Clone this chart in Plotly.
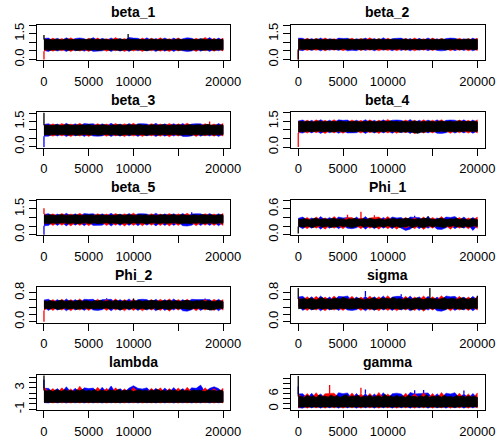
import numpy as np
import plotly.graph_objects as go

# ---- MCMC trace summaries: per-bin range (lo/hi) of the draws of each chain ----
params = ["beta_1", "beta_2", "beta_3", "beta_4", "beta_5",
          "Phi_1", "Phi_2", "sigma", "lambda", "gamma"]
n_iter = 20000

beta_1_black_hi = [1.16, 1.15, 1.17, 1.14, 1.18, 1.16, 1.13, 1.17, 1.19, 1.15, 1.16, 1.14, 1.18, 1.17, 1.15, 1.16, 1.20, 1.14, 1.17, 1.15, 1.18, 1.16, 1.13, 1.17, 1.15, 1.19, 1.16, 1.14, 1.17, 1.17, 1.15, 1.16, 1.18, 1.14, 1.17, 1.15, 1.19, 1.16, 1.14, 1.17, 1.18, 1.15, 1.16, 1.13, 1.17, 1.19, 1.15, 1.16, 1.14, 1.18, 1.17, 1.15, 1.16, 1.19, 1.14, 1.17, 1.15, 1.18, 1.16, 1.14, 1.17]
beta_1_black_lo = [0.58, 0.56, 0.54, 0.57, 0.55, 0.53, 0.56, 0.58, 0.54, 0.55, 0.57, 0.52, 0.56, 0.55, 0.58, 0.54, 0.56, 0.57, 0.53, 0.55, 0.56, 0.58, 0.54, 0.57, 0.55, 0.56, 0.53, 0.57, 0.55, 0.54, 0.58, 0.56, 0.55, 0.57, 0.52, 0.56, 0.55, 0.58, 0.54, 0.56, 0.57, 0.55, 0.53, 0.56, 0.58, 0.54, 0.57, 0.55, 0.56, 0.53, 0.57, 0.55, 0.58, 0.54, 0.56, 0.55, 0.57, 0.54, 0.56, 0.58, 0.55]
beta_1_red_hi = [1.20, 1.10, 1.24, 1.12, 1.22, 1.09, 1.26, 1.11, 1.13, 1.10, 1.23, 1.12, 1.25, 1.10, 1.21, 1.11, 1.27, 1.12, 1.22, 1.09, 1.12, 1.10, 1.24, 1.11, 1.23, 1.12, 1.26, 1.10, 1.21, 1.11, 1.25, 1.12, 1.13, 1.10, 1.23, 1.11, 1.28, 1.12, 1.22, 1.10, 1.24]
beta_1_red_lo = [0.48, 0.60, 0.48, 0.59, 0.50, 0.61, 0.46, 0.60, 0.49, 0.58, 0.47, 0.61, 0.59, 0.60, 0.48, 0.59, 0.50, 0.61, 0.46, 0.60, 0.49, 0.58, 0.47, 0.61, 0.50, 0.60, 0.48, 0.59, 0.46, 0.61, 0.49, 0.60, 0.58, 0.59, 0.47, 0.61, 0.50, 0.60, 0.48, 0.59, 0.49]
beta_1_blue_hi = [1.22, 1.24, 1.10, 1.23, 1.11, 1.26, 1.12, 1.22, 1.25, 1.21, 1.10, 1.27, 1.11, 1.23, 1.12, 1.25, 1.10, 1.22, 1.11, 1.28, 1.24, 1.23, 1.12, 1.26, 1.10, 1.22, 1.11, 1.25, 1.12, 1.24, 1.10, 1.21, 1.26, 1.23, 1.11, 1.22, 1.12, 1.27, 1.10, 1.24, 1.11]
beta_1_blue_lo = [0.52, 0.47, 0.60, 0.49, 0.59, 0.46, 0.61, 0.50, 0.60, 0.48, 0.59, 0.47, 0.49, 0.50, 0.61, 0.46, 0.60, 0.48, 0.59, 0.47, 0.61, 0.50, 0.60, 0.49, 0.59, 0.46, 0.61, 0.48, 0.60, 0.47, 0.59, 0.50, 0.46, 0.49, 0.61, 0.48, 0.60, 0.47, 0.59, 0.50, 0.60]

beta_2_black_hi = [1.15, 1.17, 1.14, 1.18, 1.16, 1.15, 1.19, 1.16, 1.14, 1.17, 1.15, 1.18, 1.16, 1.13, 1.17, 1.15, 1.16, 1.19, 1.14, 1.16, 1.17, 1.15, 1.18, 1.14, 1.16, 1.17, 1.15, 1.19, 1.16, 1.14, 1.17, 1.15, 1.18, 1.16, 1.14, 1.17, 1.19, 1.15, 1.16, 1.14, 1.18, 1.16, 1.15, 1.17, 1.14, 1.18, 1.16, 1.15, 1.19, 1.16, 1.14, 1.17, 1.15, 1.18, 1.16, 1.14, 1.17, 1.19, 1.15, 1.16, 1.17]
beta_2_black_lo = [0.60, 0.60, 0.58, 0.61, 0.57, 0.59, 0.62, 0.58, 0.60, 0.56, 0.59, 0.61, 0.57, 0.60, 0.58, 0.62, 0.59, 0.57, 0.61, 0.58, 0.60, 0.56, 0.59, 0.61, 0.58, 0.60, 0.57, 0.62, 0.59, 0.58, 0.61, 0.57, 0.60, 0.59, 0.62, 0.58, 0.56, 0.60, 0.59, 0.61, 0.57, 0.60, 0.58, 0.62, 0.59, 0.57, 0.60, 0.58, 0.61, 0.56, 0.59, 0.60, 0.58, 0.62, 0.57, 0.59, 0.61, 0.58, 0.60, 0.57, 0.59]
beta_2_red_hi = [1.18, 1.11, 1.23, 1.10, 1.22, 1.12, 1.25, 1.11, 1.21, 1.10, 1.12, 1.11, 1.24, 1.10, 1.22, 1.12, 1.26, 1.11, 1.21, 1.10, 1.23, 1.12, 1.11, 1.10, 1.22, 1.12, 1.25, 1.11, 1.21, 1.10, 1.24, 1.12, 1.22, 1.11, 1.12, 1.10, 1.23, 1.12, 1.21, 1.11, 1.24]
beta_2_red_lo = [0.52, 0.62, 0.52, 0.61, 0.53, 0.62, 0.50, 0.61, 0.54, 0.62, 0.51, 0.61, 0.60, 0.62, 0.52, 0.61, 0.53, 0.62, 0.50, 0.61, 0.52, 0.62, 0.51, 0.61, 0.53, 0.62, 0.50, 0.61, 0.54, 0.62, 0.52, 0.61, 0.61, 0.62, 0.51, 0.61, 0.53, 0.62, 0.50, 0.61, 0.52]
beta_2_blue_hi = [1.24, 1.23, 1.11, 1.22, 1.10, 1.25, 1.12, 1.21, 1.11, 1.24, 1.22, 1.23, 1.10, 1.21, 1.12, 1.24, 1.11, 1.22, 1.10, 1.26, 1.12, 1.21, 1.23, 1.24, 1.11, 1.22, 1.10, 1.23, 1.12, 1.25, 1.11, 1.21, 1.10, 1.22, 1.24, 1.23, 1.12, 1.21, 1.10, 1.24, 1.12]
beta_2_blue_lo = [0.55, 0.51, 0.62, 0.52, 0.61, 0.50, 0.62, 0.53, 0.61, 0.52, 0.62, 0.50, 0.53, 0.51, 0.62, 0.52, 0.61, 0.50, 0.62, 0.53, 0.61, 0.51, 0.62, 0.52, 0.61, 0.50, 0.62, 0.53, 0.61, 0.51, 0.62, 0.52, 0.50, 0.53, 0.62, 0.51, 0.61, 0.52, 0.62, 0.50, 0.61]

beta_3_black_hi = [1.28, 1.27, 1.29, 1.26, 1.30, 1.28, 1.25, 1.29, 1.31, 1.27, 1.28, 1.26, 1.30, 1.29, 1.27, 1.32, 1.28, 1.26, 1.29, 1.27, 1.30, 1.28, 1.25, 1.29, 1.27, 1.31, 1.28, 1.26, 1.30, 1.29, 1.27, 1.28, 1.33, 1.27, 1.29, 1.26, 1.30, 1.28, 1.27, 1.29, 1.31, 1.28, 1.26, 1.29, 1.27, 1.30, 1.28, 1.26, 1.29, 1.31, 1.27, 1.28, 1.30, 1.26, 1.29, 1.33, 1.28, 1.27, 1.30, 1.28, 1.29]
beta_3_black_lo = [0.70, 0.71, 0.69, 0.72, 0.70, 0.68, 0.71, 0.73, 0.69, 0.70, 0.72, 0.68, 0.71, 0.70, 0.73, 0.69, 0.71, 0.72, 0.68, 0.70, 0.71, 0.73, 0.69, 0.72, 0.70, 0.71, 0.68, 0.72, 0.70, 0.69, 0.73, 0.71, 0.70, 0.72, 0.68, 0.71, 0.70, 0.73, 0.69, 0.71, 0.72, 0.70, 0.68, 0.71, 0.73, 0.69, 0.72, 0.70, 0.71, 0.68, 0.72, 0.70, 0.73, 0.69, 0.71, 0.70, 0.72, 0.69, 0.71, 0.73, 0.70]
beta_3_red_hi = [1.30, 1.24, 1.36, 1.23, 1.38, 1.25, 1.35, 1.24, 1.39, 1.23, 1.26, 1.24, 1.37, 1.25, 1.35, 1.23, 1.38, 1.24, 1.36, 1.25, 1.39, 1.23, 1.25, 1.24, 1.37, 1.25, 1.35, 1.23, 1.38, 1.24, 1.36, 1.25, 1.40, 1.23, 1.26, 1.24, 1.37, 1.24, 1.35, 1.23, 1.38]
beta_3_red_lo = [0.70, 0.74, 0.62, 0.75, 0.64, 0.74, 0.60, 0.75, 0.63, 0.74, 0.61, 0.75, 0.73, 0.74, 0.62, 0.75, 0.64, 0.74, 0.60, 0.75, 0.63, 0.74, 0.61, 0.75, 0.64, 0.74, 0.62, 0.75, 0.59, 0.74, 0.63, 0.75, 0.74, 0.74, 0.61, 0.75, 0.64, 0.74, 0.62, 0.75, 0.63]
beta_3_blue_hi = [1.32, 1.37, 1.24, 1.35, 1.23, 1.39, 1.25, 1.36, 1.24, 1.38, 1.35, 1.37, 1.23, 1.36, 1.25, 1.39, 1.24, 1.35, 1.23, 1.38, 1.25, 1.36, 1.37, 1.35, 1.24, 1.39, 1.23, 1.36, 1.25, 1.37, 1.24, 1.38, 1.23, 1.35, 1.37, 1.36, 1.25, 1.24, 1.23, 1.38, 1.24]
beta_3_blue_lo = [0.62, 0.62, 0.74, 0.63, 0.75, 0.60, 0.74, 0.64, 0.75, 0.61, 0.74, 0.63, 0.62, 0.64, 0.75, 0.60, 0.74, 0.62, 0.75, 0.63, 0.74, 0.61, 0.75, 0.64, 0.74, 0.60, 0.75, 0.62, 0.74, 0.63, 0.75, 0.61, 0.60, 0.64, 0.75, 0.62, 0.74, 0.63, 0.75, 0.61, 0.74]

beta_4_black_hi = [1.47, 1.49, 1.46, 1.50, 1.48, 1.45, 1.49, 1.51, 1.47, 1.48, 1.46, 1.50, 1.49, 1.47, 1.52, 1.48, 1.46, 1.49, 1.47, 1.50, 1.48, 1.45, 1.49, 1.47, 1.51, 1.48, 1.46, 1.50, 1.49, 1.47, 1.48, 1.52, 1.47, 1.49, 1.46, 1.50, 1.48, 1.47, 1.49, 1.51, 1.48, 1.46, 1.49, 1.47, 1.50, 1.48, 1.46, 1.49, 1.51, 1.47, 1.48, 1.50, 1.46, 1.49, 1.52, 1.48, 1.47, 1.50, 1.48, 1.49, 1.47]
beta_4_black_lo = [0.90, 0.91, 0.89, 0.92, 0.90, 0.88, 0.91, 0.93, 0.89, 0.90, 0.92, 0.88, 0.91, 0.90, 0.93, 0.89, 0.91, 0.92, 0.88, 0.90, 0.91, 0.93, 0.89, 0.92, 0.90, 0.91, 0.88, 0.92, 0.90, 0.89, 0.93, 0.91, 0.90, 0.92, 0.86, 0.89, 0.87, 0.91, 0.88, 0.85, 0.80, 0.88, 0.86, 0.90, 0.92, 0.89, 0.91, 0.90, 0.93, 0.89, 0.92, 0.90, 0.91, 0.89, 0.92, 0.90, 0.93, 0.91, 0.90, 0.92, 0.91]
beta_4_red_hi = [1.50, 1.44, 1.56, 1.43, 1.58, 1.45, 1.55, 1.44, 1.59, 1.43, 1.46, 1.44, 1.57, 1.45, 1.55, 1.43, 1.58, 1.44, 1.56, 1.45, 1.60, 1.43, 1.45, 1.44, 1.57, 1.45, 1.55, 1.43, 1.58, 1.44, 1.56, 1.45, 1.59, 1.43, 1.46, 1.44, 1.57, 1.45, 1.55, 1.43, 1.58]
beta_4_red_lo = [0.82, 0.94, 0.81, 0.95, 0.83, 0.94, 0.79, 0.95, 0.82, 0.94, 0.80, 0.95, 0.93, 0.94, 0.81, 0.95, 0.83, 0.94, 0.79, 0.95, 0.82, 0.94, 0.80, 0.95, 0.83, 0.94, 0.78, 0.95, 0.81, 0.94, 0.82, 0.95, 0.94, 0.94, 0.80, 0.95, 0.83, 0.94, 0.81, 0.95, 0.82]
beta_4_blue_hi = [1.52, 1.57, 1.44, 1.55, 1.43, 1.59, 1.45, 1.56, 1.44, 1.58, 1.55, 1.57, 1.43, 1.56, 1.45, 1.59, 1.44, 1.55, 1.43, 1.58, 1.45, 1.56, 1.57, 1.55, 1.44, 1.60, 1.43, 1.56, 1.45, 1.57, 1.44, 1.58, 1.43, 1.55, 1.57, 1.56, 1.45, 1.58, 1.43, 1.57, 1.44]
beta_4_blue_lo = [0.84, 0.81, 0.94, 0.82, 0.95, 0.79, 0.94, 0.83, 0.95, 0.80, 0.94, 0.82, 0.81, 0.83, 0.95, 0.79, 0.94, 0.81, 0.95, 0.82, 0.94, 0.80, 0.95, 0.83, 0.94, 0.79, 0.95, 0.81, 0.94, 0.82, 0.95, 0.80, 0.79, 0.83, 0.95, 0.81, 0.94, 0.82, 0.95, 0.80, 0.94]

beta_5_black_hi = [1.14, 1.12, 1.15, 1.13, 1.11, 1.14, 1.16, 1.12, 1.13, 1.15, 1.12, 1.14, 1.13, 1.11, 1.15, 1.13, 1.16, 1.12, 1.14, 1.13, 1.15, 1.12, 1.14, 1.11, 1.13, 1.16, 1.14, 1.12, 1.15, 1.13, 1.14, 1.12, 1.16, 1.13, 1.15, 1.12, 1.14, 1.13, 1.11, 1.15, 1.14, 1.12, 1.13, 1.16, 1.14, 1.12, 1.15, 1.13, 1.14, 1.11, 1.15, 1.13, 1.12, 1.16, 1.14, 1.13, 1.15, 1.12, 1.14, 1.13, 1.15]
beta_5_black_lo = [0.66, 0.67, 0.65, 0.68, 0.66, 0.64, 0.67, 0.69, 0.65, 0.66, 0.68, 0.64, 0.67, 0.66, 0.69, 0.65, 0.67, 0.68, 0.64, 0.66, 0.67, 0.69, 0.65, 0.68, 0.66, 0.67, 0.64, 0.68, 0.66, 0.65, 0.69, 0.67, 0.66, 0.68, 0.64, 0.67, 0.66, 0.69, 0.65, 0.67, 0.68, 0.66, 0.64, 0.67, 0.69, 0.65, 0.68, 0.66, 0.67, 0.64, 0.68, 0.66, 0.69, 0.65, 0.67, 0.66, 0.68, 0.65, 0.67, 0.69, 0.66]
beta_5_red_hi = [1.20, 1.09, 1.21, 1.08, 1.23, 1.10, 1.20, 1.09, 1.24, 1.08, 1.11, 1.09, 1.22, 1.10, 1.20, 1.08, 1.23, 1.09, 1.21, 1.10, 1.25, 1.08, 1.10, 1.09, 1.22, 1.10, 1.20, 1.08, 1.23, 1.09, 1.21, 1.10, 1.24, 1.08, 1.11, 1.09, 1.22, 1.10, 1.20, 1.08, 1.23]
beta_5_red_lo = [0.62, 0.70, 0.53, 0.71, 0.55, 0.70, 0.51, 0.71, 0.54, 0.70, 0.52, 0.71, 0.69, 0.70, 0.53, 0.71, 0.55, 0.70, 0.50, 0.71, 0.54, 0.70, 0.52, 0.71, 0.55, 0.70, 0.53, 0.71, 0.51, 0.70, 0.54, 0.71, 0.70, 0.70, 0.52, 0.71, 0.55, 0.70, 0.53, 0.71, 0.54]
beta_5_blue_hi = [1.18, 1.22, 1.09, 1.20, 1.08, 1.24, 1.10, 1.21, 1.09, 1.23, 1.20, 1.22, 1.08, 1.21, 1.10, 1.24, 1.09, 1.20, 1.08, 1.23, 1.10, 1.21, 1.22, 1.20, 1.09, 1.25, 1.08, 1.21, 1.10, 1.22, 1.09, 1.23, 1.08, 1.20, 1.22, 1.21, 1.10, 1.23, 1.08, 1.22, 1.09]
beta_5_blue_lo = [0.52, 0.53, 0.70, 0.54, 0.71, 0.51, 0.70, 0.55, 0.71, 0.52, 0.70, 0.54, 0.53, 0.55, 0.71, 0.50, 0.70, 0.53, 0.71, 0.54, 0.70, 0.52, 0.71, 0.55, 0.70, 0.51, 0.71, 0.53, 0.70, 0.54, 0.71, 0.52, 0.50, 0.55, 0.71, 0.53, 0.70, 0.54, 0.71, 0.52, 0.70]

Phi_1_black_hi = [0.36, 0.35, 0.37, 0.36, 0.34, 0.37, 0.38, 0.35, 0.36, 0.37, 0.35, 0.36, 0.38, 0.35, 0.37, 0.36, 0.34, 0.37, 0.36, 0.38, 0.35, 0.36, 0.37, 0.35, 0.38, 0.36, 0.35, 0.37, 0.36, 0.34, 0.37, 0.36, 0.38, 0.35, 0.37, 0.36, 0.38, 0.37, 0.36, 0.35, 0.37, 0.36, 0.38, 0.37, 0.37, 0.36, 0.35, 0.37, 0.38, 0.36, 0.35, 0.37, 0.36, 0.38, 0.35, 0.37, 0.36, 0.34, 0.37, 0.36, 0.35]
Phi_1_black_lo = [0.19, 0.19, 0.18, 0.20, 0.19, 0.17, 0.20, 0.21, 0.18, 0.19, 0.20, 0.17, 0.19, 0.18, 0.21, 0.19, 0.20, 0.18, 0.17, 0.19, 0.20, 0.21, 0.18, 0.20, 0.19, 0.18, 0.17, 0.20, 0.19, 0.18, 0.21, 0.19, 0.18, 0.20, 0.17, 0.19, 0.18, 0.21, 0.16, 0.19, 0.20, 0.18, 0.17, 0.19, 0.21, 0.18, 0.20, 0.19, 0.18, 0.17, 0.20, 0.19, 0.21, 0.18, 0.19, 0.17, 0.20, 0.18, 0.19, 0.21, 0.19]
Phi_1_red_hi = [0.33, 0.34, 0.40, 0.33, 0.41, 0.34, 0.39, 0.33, 0.42, 0.34, 0.35, 0.40, 0.40, 0.33, 0.40, 0.34, 0.39, 0.40, 0.41, 0.34, 0.42, 0.33, 0.35, 0.34, 0.40, 0.33, 0.39, 0.34, 0.41, 0.33, 0.40, 0.34, 0.42, 0.33, 0.35, 0.34, 0.40, 0.33, 0.39, 0.34, 0.41]
Phi_1_red_lo = [0.22, 0.21, 0.14, 0.22, 0.15, 0.21, 0.13, 0.22, 0.15, 0.21, 0.14, 0.22, 0.20, 0.21, 0.14, 0.22, 0.15, 0.21, 0.13, 0.22, 0.14, 0.21, 0.13, 0.22, 0.15, 0.21, 0.14, 0.22, 0.12, 0.21, 0.15, 0.22, 0.21, 0.21, 0.13, 0.22, 0.15, 0.21, 0.14, 0.22, 0.15]
Phi_1_blue_hi = [0.38, 0.41, 0.34, 0.39, 0.33, 0.42, 0.34, 0.40, 0.33, 0.41, 0.39, 0.40, 0.33, 0.41, 0.34, 0.42, 0.33, 0.34, 0.33, 0.40, 0.34, 0.41, 0.39, 0.40, 0.33, 0.41, 0.40, 0.40, 0.34, 0.42, 0.33, 0.39, 0.34, 0.41, 0.40, 0.42, 0.34, 0.41, 0.33, 0.40, 0.34]
Phi_1_blue_lo = [0.20, 0.14, 0.21, 0.15, 0.22, 0.13, 0.21, 0.15, 0.22, 0.14, 0.21, 0.15, 0.14, 0.16, 0.22, 0.13, 0.21, 0.14, 0.22, 0.15, 0.21, 0.14, 0.22, 0.15, 0.10, 0.13, 0.22, 0.14, 0.21, 0.15, 0.22, 0.13, 0.12, 0.16, 0.22, 0.14, 0.21, 0.15, 0.22, 0.10, 0.21]

Phi_2_black_hi = [0.57, 0.56, 0.58, 0.57, 0.55, 0.58, 0.59, 0.56, 0.57, 0.58, 0.56, 0.57, 0.59, 0.56, 0.58, 0.57, 0.55, 0.58, 0.57, 0.59, 0.56, 0.57, 0.58, 0.56, 0.59, 0.57, 0.56, 0.58, 0.57, 0.55, 0.58, 0.57, 0.59, 0.56, 0.58, 0.57, 0.59, 0.58, 0.57, 0.56, 0.58, 0.57, 0.59, 0.56, 0.58, 0.57, 0.56, 0.58, 0.59, 0.57, 0.56, 0.58, 0.57, 0.59, 0.56, 0.58, 0.57, 0.55, 0.58, 0.57, 0.56]
Phi_2_black_lo = [0.36, 0.37, 0.35, 0.38, 0.36, 0.34, 0.37, 0.38, 0.35, 0.36, 0.37, 0.34, 0.36, 0.35, 0.38, 0.36, 0.37, 0.35, 0.34, 0.36, 0.37, 0.38, 0.35, 0.37, 0.36, 0.35, 0.34, 0.37, 0.36, 0.35, 0.38, 0.36, 0.35, 0.37, 0.34, 0.36, 0.35, 0.38, 0.33, 0.36, 0.37, 0.35, 0.34, 0.36, 0.38, 0.35, 0.37, 0.36, 0.35, 0.34, 0.37, 0.36, 0.38, 0.35, 0.36, 0.34, 0.32, 0.35, 0.36, 0.38, 0.36]
Phi_2_red_hi = [0.58, 0.54, 0.61, 0.53, 0.62, 0.54, 0.61, 0.53, 0.63, 0.54, 0.55, 0.54, 0.62, 0.53, 0.61, 0.54, 0.63, 0.53, 0.61, 0.54, 0.62, 0.53, 0.55, 0.54, 0.61, 0.53, 0.62, 0.54, 0.63, 0.53, 0.61, 0.54, 0.62, 0.53, 0.55, 0.54, 0.61, 0.53, 0.62, 0.54, 0.61]
Phi_2_red_lo = [0.31, 0.39, 0.31, 0.40, 0.32, 0.39, 0.30, 0.40, 0.32, 0.39, 0.31, 0.40, 0.38, 0.39, 0.31, 0.40, 0.32, 0.39, 0.30, 0.40, 0.31, 0.39, 0.30, 0.40, 0.32, 0.39, 0.31, 0.40, 0.29, 0.39, 0.32, 0.40, 0.39, 0.39, 0.30, 0.40, 0.32, 0.39, 0.31, 0.40, 0.32]
Phi_2_blue_hi = [0.60, 0.62, 0.54, 0.61, 0.53, 0.63, 0.54, 0.61, 0.53, 0.62, 0.61, 0.62, 0.53, 0.61, 0.61, 0.62, 0.53, 0.61, 0.54, 0.63, 0.53, 0.61, 0.62, 0.61, 0.54, 0.62, 0.53, 0.61, 0.54, 0.63, 0.53, 0.61, 0.54, 0.62, 0.61, 0.62, 0.61, 0.61, 0.53, 0.62, 0.54]
Phi_2_blue_lo = [0.40, 0.31, 0.39, 0.32, 0.40, 0.30, 0.39, 0.32, 0.40, 0.31, 0.39, 0.32, 0.31, 0.33, 0.40, 0.30, 0.39, 0.31, 0.40, 0.32, 0.39, 0.31, 0.40, 0.32, 0.39, 0.30, 0.40, 0.31, 0.39, 0.32, 0.40, 0.30, 0.29, 0.33, 0.40, 0.31, 0.39, 0.32, 0.40, 0.30, 0.39]

sigma_black_hi = [0.63, 0.62, 0.64, 0.61, 0.65, 0.63, 0.60, 0.64, 0.66, 0.62, 0.63, 0.61, 0.65, 0.64, 0.62, 0.67, 0.63, 0.61, 0.64, 0.62, 0.65, 0.63, 0.60, 0.63, 0.62, 0.66, 0.63, 0.61, 0.65, 0.64, 0.62, 0.63, 0.67, 0.62, 0.64, 0.61, 0.65, 0.63, 0.62, 0.64, 0.66, 0.63, 0.61, 0.64, 0.64, 0.65, 0.63, 0.61, 0.64, 0.66, 0.62, 0.63, 0.65, 0.61, 0.64, 0.66, 0.63, 0.62, 0.65, 0.63, 0.65]
sigma_black_lo = [0.36, 0.37, 0.35, 0.38, 0.36, 0.34, 0.37, 0.38, 0.35, 0.36, 0.37, 0.34, 0.36, 0.35, 0.38, 0.36, 0.37, 0.35, 0.34, 0.36, 0.37, 0.38, 0.35, 0.37, 0.36, 0.35, 0.34, 0.37, 0.36, 0.35, 0.38, 0.36, 0.35, 0.37, 0.34, 0.36, 0.35, 0.38, 0.32, 0.36, 0.37, 0.35, 0.34, 0.36, 0.38, 0.35, 0.37, 0.36, 0.35, 0.34, 0.37, 0.36, 0.38, 0.35, 0.36, 0.34, 0.37, 0.35, 0.36, 0.38, 0.36]
sigma_red_hi = [0.66, 0.60, 0.69, 0.59, 0.70, 0.60, 0.68, 0.59, 0.71, 0.60, 0.61, 0.60, 0.70, 0.59, 0.68, 0.60, 0.71, 0.59, 0.69, 0.60, 0.72, 0.59, 0.61, 0.60, 0.70, 0.59, 0.68, 0.60, 0.71, 0.59, 0.69, 0.60, 0.72, 0.59, 0.61, 0.60, 0.70, 0.59, 0.68, 0.60, 0.69]
sigma_red_lo = [0.40, 0.39, 0.31, 0.40, 0.32, 0.39, 0.30, 0.40, 0.32, 0.39, 0.31, 0.40, 0.38, 0.39, 0.31, 0.40, 0.32, 0.39, 0.30, 0.40, 0.31, 0.39, 0.30, 0.40, 0.32, 0.39, 0.31, 0.40, 0.29, 0.39, 0.32, 0.40, 0.39, 0.39, 0.30, 0.40, 0.32, 0.39, 0.31, 0.40, 0.32]
sigma_blue_hi = [0.68, 0.70, 0.60, 0.69, 0.59, 0.71, 0.60, 0.68, 0.59, 0.70, 0.69, 0.71, 0.59, 0.68, 0.60, 0.70, 0.59, 0.69, 0.60, 0.71, 0.59, 0.68, 0.70, 0.70, 0.60, 0.71, 0.59, 0.69, 0.60, 0.70, 0.59, 0.68, 0.60, 0.71, 0.69, 0.70, 0.60, 0.68, 0.59, 0.70, 0.60]
sigma_blue_lo = [0.45, 0.31, 0.39, 0.32, 0.40, 0.30, 0.39, 0.32, 0.40, 0.31, 0.39, 0.32, 0.31, 0.33, 0.40, 0.30, 0.39, 0.31, 0.40, 0.32, 0.39, 0.31, 0.40, 0.32, 0.39, 0.30, 0.40, 0.31, 0.39, 0.32, 0.40, 0.30, 0.29, 0.33, 0.40, 0.31, 0.39, 0.32, 0.40, 0.30, 0.39]

lambda_black_hi = [2.50, 2.40, 2.55, 2.30, 2.60, 2.45, 2.35, 2.65, 2.40, 2.50, 2.30, 2.60, 2.45, 2.70, 2.35, 2.50, 2.40, 2.65, 2.30, 2.55, 2.45, 2.35, 2.60, 2.50, 2.40, 2.70, 2.35, 2.55, 2.45, 2.60, 2.30, 2.50, 2.65, 2.40, 2.55, 2.35, 2.60, 2.45, 2.70, 2.40, 2.50, 2.35, 2.60, 2.45, 2.55, 2.30, 2.65, 2.40, 2.50, 2.35, 2.60, 2.45, 2.55, 2.40, 2.30, 2.60, 2.45, 2.50, 2.35, 2.55, 2.40]
lambda_black_lo = [0.30, 0.30, 0.32, 0.29, 0.31, 0.30, 0.33, 0.29, 0.30, 0.31, 0.29, 0.32, 0.30, 0.31, 0.29, 0.30, 0.32, 0.30, 0.29, 0.31, 0.30, 0.32, 0.29, 0.30, 0.31, 0.30, 0.29, 0.32, 0.30, 0.31, 0.29, 0.30, 0.32, 0.30, 0.29, 0.31, 0.30, 0.32, 0.29, 0.30, 0.31, 0.30, 0.29, 0.32, 0.30, 0.31, 0.29, 0.30, 0.32, 0.30, 0.29, 0.31, 0.30, 0.32, 0.29, 0.30, 0.31, 0.30, 0.29, 0.32, 0.30]
lambda_red_hi = [3.20, 2.20, 2.85, 2.15, 3.00, 2.20, 2.80, 2.15, 3.30, 2.20, 2.25, 2.15, 3.10, 2.20, 2.90, 2.15, 3.00, 2.20, 2.80, 2.15, 3.05, 2.20, 2.25, 2.15, 2.90, 2.20, 3.00, 2.15, 2.85, 2.20, 2.95, 2.15, 3.10, 2.20, 2.25, 2.15, 3.00, 2.20, 2.85, 2.15, 2.90]
lambda_red_lo = [0.25, 0.40, 0.18, 0.40, 0.20, 0.40, 0.17, 0.40, 0.19, 0.40, 0.18, 0.40, 0.20, 0.40, 0.17, 0.40, 0.19, 0.40, 0.18, 0.40, 0.20, 0.40, 0.17, 0.40, 0.19, 0.40, 0.18, 0.40, 0.20, 0.40, 0.17, 0.40, 0.19, 0.40, 0.18, 0.40, 0.20, 0.40, 0.17, 0.40, 0.19]
lambda_blue_hi = [2.90, 2.90, 2.20, 2.85, 2.15, 3.20, 2.20, 2.90, 2.15, 3.00, 2.85, 2.95, 2.15, 3.10, 2.20, 3.35, 2.15, 2.85, 2.20, 2.95, 3.40, 2.90, 2.80, 3.00, 2.20, 2.90, 2.15, 2.95, 2.20, 3.05, 2.15, 2.85, 2.20, 3.00, 2.90, 3.50, 2.20, 2.90, 3.20, 2.85, 2.15]
lambda_blue_lo = [0.26, 0.18, 0.40, 0.19, 0.40, 0.17, 0.40, 0.20, 0.40, 0.18, 0.40, 0.19, 0.40, 0.17, 0.40, 0.20, 0.40, 0.18, 0.40, 0.19, 0.40, 0.17, 0.40, 0.20, 0.40, 0.18, 0.40, 0.19, 0.40, 0.17, 0.40, 0.20, 0.40, 0.18, 0.40, 0.19, 0.40, 0.17, 0.40, 0.20, 0.40]

gamma_black_hi = [5.0, 5.0, 4.6, 5.4, 4.8, 5.2, 4.5, 5.6, 4.9, 5.1, 4.7, 5.5, 4.8, 5.3, 4.6, 5.0, 5.7, 4.7, 5.2, 4.9, 5.4, 4.6, 5.1, 4.8, 5.5, 4.7, 5.0, 5.3, 4.6, 5.8, 4.9, 5.2, 4.7, 5.4, 4.8, 5.1, 4.6, 5.5, 4.9, 5.0, 4.7, 5.3, 4.8, 5.6, 4.6, 5.1, 4.9, 5.2, 4.7, 5.4, 4.8, 5.0, 4.6, 5.3, 4.9, 5.1, 4.7, 5.2, 4.8, 5.0, 4.6]
gamma_black_lo = [0.8, 0.9, 0.8, 0.7, 0.9, 0.8, 0.8, 0.9, 0.7, 0.8, 0.9, 0.8, 0.7, 0.8, 0.9, 0.8, 0.8, 0.7, 0.9, 0.8, 0.8, 0.9, 0.7, 0.8, 0.8, 0.9, 0.8, 0.7, 0.8, 0.9, 0.8, 0.8, 0.7, 0.9, 0.8, 0.8, 0.9, 0.7, 0.8, 0.8, 0.9, 0.8, 0.7, 0.8, 0.9, 0.8, 0.8, 0.7, 0.9, 0.8, 0.8, 0.9, 0.7, 0.8, 0.8, 0.9, 0.8, 0.7, 0.8, 0.9, 0.8]
gamma_red_hi = [6.0, 4.4, 6.2, 4.3, 6.5, 4.4, 6.1, 6.2, 6.3, 4.4, 4.5, 4.3, 6.4, 4.4, 6.1, 4.3, 6.2, 4.4, 6.6, 4.3, 6.0, 4.4, 4.5, 4.3, 6.3, 4.4, 6.1, 4.3, 6.5, 4.4, 6.2, 4.3, 6.6, 4.4, 4.5, 4.3, 6.3, 4.4, 6.0, 4.3, 6.4]
gamma_red_lo = [0.4, 1.2, 0.3, 1.2, 0.4, 1.2, 0.3, 1.2, 0.4, 1.2, 0.3, 1.2, 0.4, 1.2, 0.3, 1.2, 0.4, 1.2, 0.3, 1.2, 0.4, 1.2, 0.3, 1.2, 0.4, 1.2, 0.3, 1.2, 0.4, 1.2, 0.3, 1.2, 0.4, 1.2, 0.3, 1.2, 0.4, 1.2, 0.3, 1.2, 0.4]
gamma_blue_hi = [6.0, 6.1, 4.4, 6.3, 4.3, 6.0, 4.4, 6.2, 4.3, 6.5, 6.1, 6.4, 4.3, 6.2, 4.4, 6.1, 4.3, 6.0, 4.4, 6.5, 4.3, 6.1, 6.3, 6.0, 4.4, 6.6, 6.0, 6.2, 6.2, 6.4, 4.3, 6.1, 4.4, 6.3, 6.0, 6.5, 4.4, 6.1, 4.3, 6.2, 4.4]
gamma_blue_lo = [0.5, 0.3, 1.2, 0.4, 1.2, 0.3, 1.2, 0.4, 1.2, 0.3, 1.2, 0.4, 1.2, 0.3, 1.2, 0.4, 1.2, 0.3, 1.2, 0.4, 1.2, 0.3, 1.2, 0.4, 1.2, 0.3, 1.2, 0.4, 1.2, 0.3, 1.2, 0.4, 1.2, 0.3, 1.2, 0.4, 1.2, 0.3, 1.2, 0.4, 1.2]

# isolated draws outside the bulk: (chain, iteration, value); iteration 0 = starting value
spikes = {
    "beta_1": [("red", 0, 0.00), ("black", 0, 1.42), ("black", 9400, 1.48)],
    "beta_2": [("red", 0, -0.01), ("black", 0, 0.00)],
    "beta_3": [("blue", 0, -0.04), ("black", 0, 2.02), ("red", 18500, 1.50)],
    "beta_4": [("red", 0, 0.00)],
    "beta_5": [("blue", 0, 0.00), ("red", 0, 1.53), ("blue", 16500, 1.30)],
    "Phi_1": [("black", 0, 0.03), ("red", 5500, 0.46), ("red", 7000, 0.53),
              ("red", 8500, 0.45), ("blue", 13000, 0.44), ("black", 14500, 0.43)],
    "Phi_2": [("red", 0, 0.00), ("blue", 7000, 0.65), ("blue", 18000, 0.64),
              ("black", 10000, 0.64)],
    "sigma": [("black", 0, 0.93), ("blue", 7500, 0.85), ("blue", 11500, 0.76),
              ("black", 14700, 0.93), ("black", 20000, 0.72)],
    "lambda": [("blue", 0, 4.50), ("black", 0, 5.30)],
    "gamma": [("blue", 0, 9.0), ("black", 0, 13.2), ("red", 3500, 9.6),
              ("red", 7000, 8.5), ("blue", 7500, 7.8), ("blue", 13000, 7.5),
              ("blue", 14000, 7.6), ("blue", 18500, 7.4)],
}

ns = globals()
chain_names = ["blue", "red", "black"]          # drawing order: black ends on top
chain_colors = {"black": "#000000", "red": "#FF0000", "blue": "#0000FF"}
edge_width = {"black": 0.8, "red": 0.5, "blue": 0.5}

# y-axis ticks and the labels that are printed (the rest are suppressed by overlap)
y_ticks = {
    "beta_1": ([0, 0.5, 1, 1.5, 2], ["0.0", "", "", "1.5", ""]),
    "beta_2": ([0, 0.5, 1, 1.5, 2], ["0.0", "", "", "1.5", ""]),
    "beta_3": ([0, 0.5, 1, 1.5, 2], ["0.0", "", "", "1.5", ""]),
    "beta_4": ([0, 0.5, 1, 1.5, 2], ["0.0", "", "", "1.5", ""]),
    "beta_5": ([0, 0.5, 1, 1.5, 2], ["0.0", "", "", "1.5", ""]),
    "Phi_1": ([0, 0.2, 0.4, 0.6, 0.8], ["0.0", "", "", "0.6", ""]),
    "Phi_2": ([0, 0.2, 0.4, 0.6, 0.8], ["0.0", "", "", "", "0.8"]),
    "sigma": ([0, 0.2, 0.4, 0.6, 0.8], ["0.0", "", "", "", "0.8"]),
    "lambda": ([-1, 0, 1, 2, 3, 4, 5], ["-1", "", "", "", "3", "", ""]),
    "gamma": ([0, 2, 4, 6, 8, 10, 12], ["0", "", "", "6", "", "", ""]),
}
y_ranges = {
    "beta_1": [-0.03, 2.03], "beta_2": [-0.03, 2.03], "beta_3": [-0.06, 2.06],
    "beta_4": [-0.03, 2.03], "beta_5": [-0.03, 2.03],
    "Phi_1": [-0.01, 0.81], "Phi_2": [-0.03, 0.95], "sigma": [-0.03, 0.95],
    "lambda": [-1.2, 5.4], "gamma": [-0.6, 13.6],
}
x_tickvals = [0, 5000, 10000, 15000, 20000]
x_ticktext = ["0", "5000", "10000", "", "20000"]

W, H = 496, 443
col_left = [36.8, 291.1]
box_w = 193.4
row_top0, row_pitch, box_h = 24.5, 87.6, 35.5
font_family = "Liberation Sans, Arial, Helvetica, sans-serif"

fig = go.Figure()
annotations = []
for k, name in enumerate(params):
    r, c = divmod(k, 2)
    ax = "" if k == 0 else str(k + 1)
    x0 = col_left[c]
    y0 = row_top0 + r * row_pitch
    xd = [x0 / W, (x0 + box_w) / W]
    yd = [1 - (y0 + box_h) / H, 1 - y0 / H]

    for ch in chain_names:
        hi = ns["%s_%s_hi" % (name, ch)]
        lo = ns["%s_%s_lo" % (name, ch)]
        xs = list(np.linspace(0, n_iter, len(hi)))
        col = chain_colors[ch]
        # bulk of the chain: filled band between per-bin min and max
        fig.add_trace(go.Scatter(x=xs + xs[::-1], y=list(hi) + list(lo)[::-1],
                                 mode="lines", fill="toself", fillcolor=col,
                                 line=dict(color=col, width=edge_width[ch]),
                                 xaxis="x" + ax, yaxis="y" + ax,
                                 showlegend=False, hoverinfo="skip"))
        # single excursions drawn as vertical strokes from the band edge
        sx, sy = [], []
        for sch, it, val in spikes[name]:
            if sch != ch:
                continue
            h = float(np.interp(it, xs, hi))
            l = float(np.interp(it, xs, lo))
            base = h if val > h else l
            sx += [it, it, None]
            sy += [base, val, None]
        if sx:
            fig.add_trace(go.Scatter(x=sx, y=sy, mode="lines",
                                     line=dict(color=col, width=1.3),
                                     xaxis="x" + ax, yaxis="y" + ax,
                                     showlegend=False, hoverinfo="skip"))

    common = dict(showline=True, mirror=True, linecolor="black", linewidth=1,
                  ticks="outside", ticklen=7, tickwidth=1, tickcolor="black",
                  showgrid=False, zeroline=False, fixedrange=True,
                  tickfont=dict(family=font_family, size=13, color="black"))
    yv, yt = y_ticks[name]
    fig.update_layout(**{
        "xaxis" + ax: dict(domain=xd, range=[-800, 20800], tickvals=x_tickvals,
                           ticktext=x_ticktext, anchor="y" + ax, tickangle=0,
                           ticklabelstandoff=2, **common),
        "yaxis" + ax: dict(domain=yd, range=y_ranges[name], tickvals=yv,
                           ticktext=yt, anchor="x" + ax, tickangle=-90, **common),
    })
    annotations.append(dict(text="<b>%s</b>" % name, x=(x0 + box_w / 2) / W,
                            y=1 - (y0 - 12.5) / H, xref="paper", yref="paper",
                            xanchor="center", yanchor="middle", showarrow=False,
                            font=dict(family=font_family, size=14, color="black")))

fig.update_layout(width=W, height=H,
                  margin=dict(l=0, r=0, t=0, b=0, autoexpand=False),
                  paper_bgcolor="white", plot_bgcolor="white",
                  annotations=annotations)
fig.write_html("out.html")
